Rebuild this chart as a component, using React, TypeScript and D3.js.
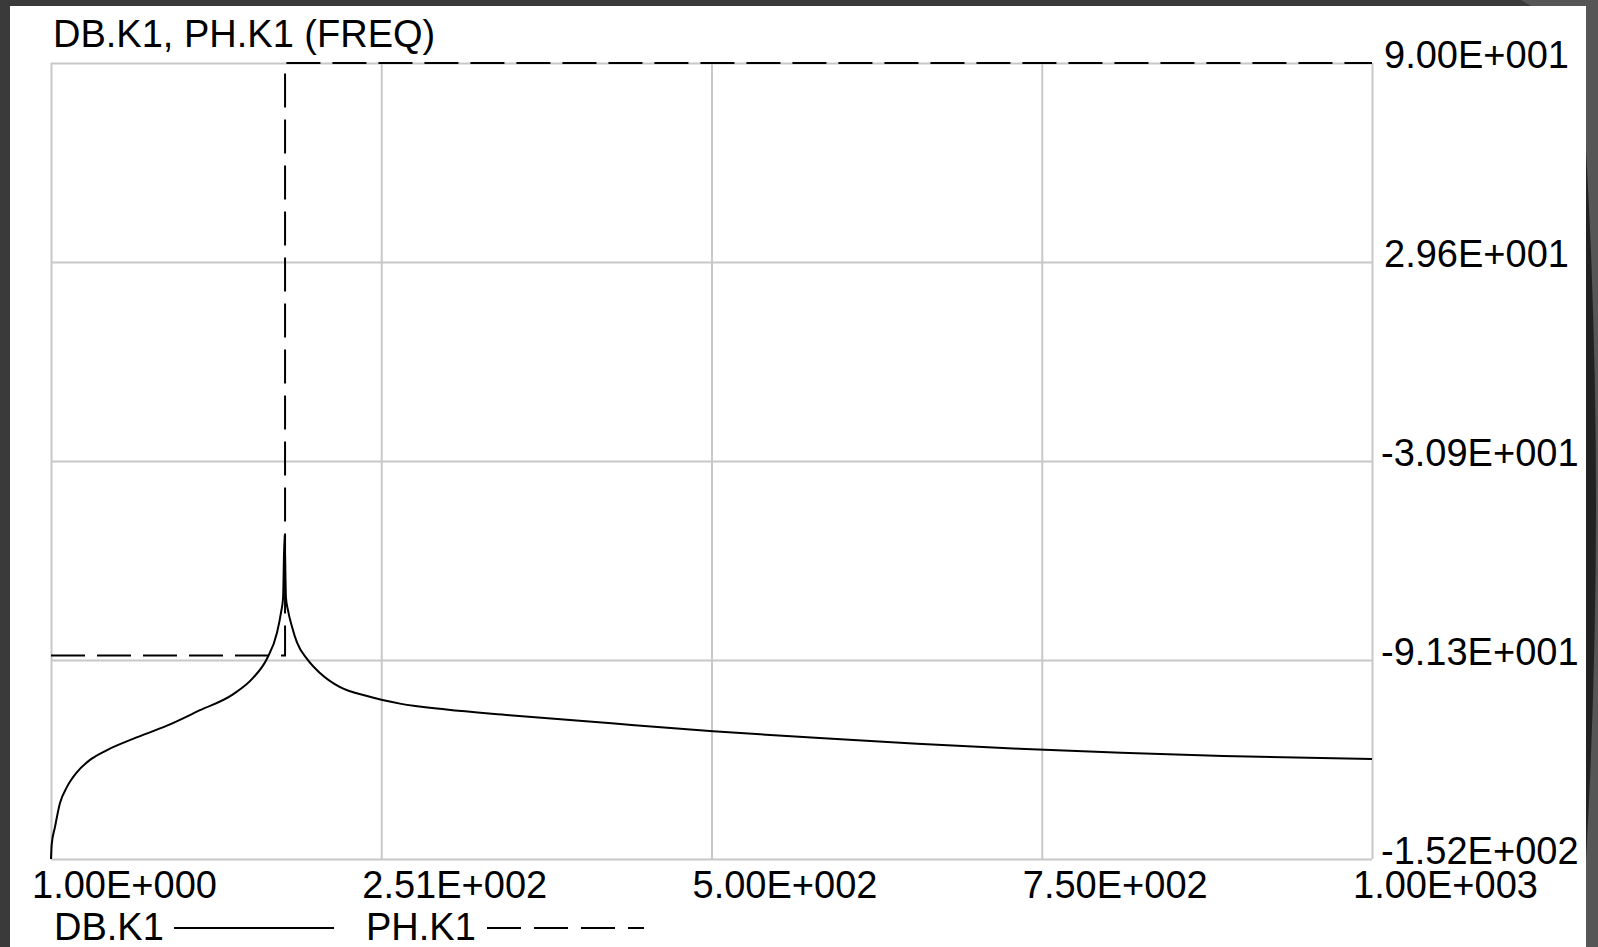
import React, {useEffect, useRef} from "react";
import * as d3 from "d3";

// DB.K1 magnitude trace (frequency, value)
const freq = [1, 1.5, 4, 7.8, 13.1, 20.7, 30.5, 43.4, 63, 88.7, 113.7, 138.6, 153.8, 164.4, 171.9, 175, 176.5, 177.6,
  178.7, 180.2, 183.3, 187, 194.6, 204.4, 219.6, 240, 264.9, 300, 347.8, 424.9, 501.7, 579, 656.1, 733.2, 810.3, 887.4, 1000];
const dbK1 = [-151.8, -147.5, -142.1, -134.8, -129.9, -125.4, -121.7, -118.7, -115.3, -111.3, -106.6, -101.8, -96.8, -90.9,
  -83.1, -76.8, -72.5, -53.4, -72.5, -76.2, -81.3, -86.0, -91.0, -95.3, -99.6, -102.3, -104.6, -106.4, -108.1, -110.6,
  -113.0, -115.0, -116.8, -118.3, -119.5, -120.5, -121.4];

// PH.K1 phase trace
const phFreq = [1, 178, 178, 1000];
const phK1 = [-90, -90, 90, 90];

const xTickValues = [1, 250.75, 500.5, 750.25, 1000];
const xTickLabels = ["1.00E+000", "2.51E+002", "5.00E+002", "7.50E+002", "1.00E+003"];
const yTickValues = [90, 29.55, -30.9, -91.35, -151.8];
const yTickLabels = ["9.00E+001", "2.96E+001", "-3.09E+001", "-9.13E+001", "-1.52E+002"];

const W = 1598, H = 947;
const FONT = "'Liberation Sans', Arial, sans-serif";

export default function App() {
  const svgRef = useRef(null);

  useEffect(() => {
    const svg = d3.select(svgRef.current);
    svg.selectAll("*").remove();

    // slide background around the chart
    svg.append("rect").attr("width", W).attr("height", H).attr("fill", "#3a3a3a");
    svg.append("path").attr("d", "M1521,0 L1598,0 L1598,947 L1586,947 L1586,6 L1531,6 Z").attr("fill", "#565656");
    svg.append("path").attr("d", "M1586,150 Q1606,500 1586,860 Z").attr("fill", "#222222");
    svg.append("path").attr("d", "M1594,200 Q1610,500 1596,820 L1598,820 L1598,200 Z").attr("fill", "#565656");
    svg.append("rect").attr("x", 10).attr("y", 6).attr("width", 1576).attr("height", H - 6).attr("fill", "#ffffff");

    const x = d3.scaleLinear().domain([1, 1000]).range([51, 1372]);
    const y = d3.scaleLinear().domain([-151.8, 90]).range([859, 63]);

    const g = svg.append("g");

    // grid
    g.append("g").attr("transform", "translate(0,859)")
      .call(d3.axisBottom(x).tickValues(xTickValues).tickSize(-796).tickFormat(""))
      .call(a => a.select(".domain").remove())
      .selectAll("line").attr("stroke", "#c8c8c8").attr("stroke-width", 2);
    g.append("g").attr("transform", "translate(51,0)")
      .call(d3.axisLeft(y).tickValues(yTickValues).tickSize(-1321).tickFormat(""))
      .call(a => a.select(".domain").remove())
      .selectAll("line").attr("stroke", "#c8c8c8").attr("stroke-width", 2);

    const phLine = d3.line().x(d => x(d[0])).y(d => y(d[1]));
    const dbLine = d3.line().x(d => x(d[0])).y(d => y(d[1])).curve(d3.curveMonotoneX);

    g.append("path")
      .attr("d", phLine(phFreq.map((f, i) => [f, phK1[i]])))
      .attr("fill", "none").attr("stroke", "#000").attr("stroke-width", 2)
      .attr("stroke-dasharray", "34,12");

    g.append("path")
      .attr("d", dbLine(freq.map((f, i) => [f, dbK1[i]])))
      .attr("fill", "none").attr("stroke", "#000").attr("stroke-width", 2)
      .attr("stroke-linejoin", "round");

    const txt = svg.append("g").attr("font-family", FONT).attr("font-size", 38).attr("fill", "#000");

    txt.append("text").attr("x", 53).attr("y", 47).text("DB.K1, PH.K1 (FREQ)");

    txt.selectAll(".xl").data(xTickValues).enter().append("text")
      .attr("x", d => x(d) - 19).attr("y", 898)
      .text((d, i) => xTickLabels[i]);

    txt.selectAll(".yl").data(yTickValues).enter().append("text")
      .attr("x", (d, i) => yTickLabels[i].startsWith("-") ? 1381 : 1384)
      .attr("y", d => y(d) + 5)
      .text((d, i) => yTickLabels[i]);

    // legend
    txt.append("text").attr("x", 54).attr("y", 940).text("DB.K1");
    svg.append("line").attr("x1", 174).attr("x2", 334).attr("y1", 928).attr("y2", 928)
      .attr("stroke", "#000").attr("stroke-width", 2);
    txt.append("text").attr("x", 366).attr("y", 940).text("PH.K1");
    svg.append("line").attr("x1", 487).attr("x2", 644).attr("y1", 928).attr("y2", 928)
      .attr("stroke", "#000").attr("stroke-width", 2).attr("stroke-dasharray", "34,13");
  }, []);

  return (
    <svg ref={svgRef} width={W} height={H}
      style={{position: "absolute", left: 0, top: 0, display: "block"}} />
  );
}
